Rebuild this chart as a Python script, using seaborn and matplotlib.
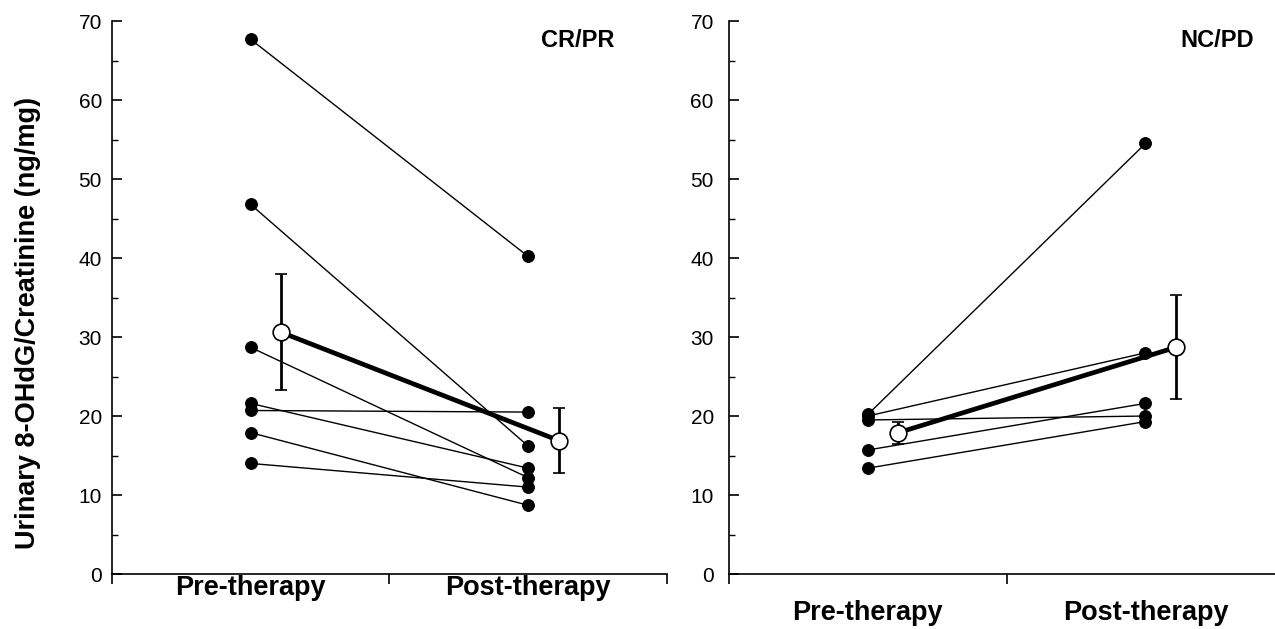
import matplotlib
matplotlib.use("Agg")
import matplotlib.pyplot as plt
import numpy as np
import pandas as pd
import seaborn as sns

phases = ["Pre-therapy", "Post-therapy"]

# CR/PR group, one pre/post pair per patient
crpr_pre = [67.7, 46.8, 28.7, 21.6, 20.7, 17.9, 14.0]
crpr_post = [40.2, 16.2, 12.2, 13.4, 20.5, 8.7, 11.0]
crpr_mean = [30.6, 16.9]
crpr_err = [7.35, 4.1]

# NC/PD group
ncpd_pre = [20.2, 20.0, 19.5, 15.7, 13.4]
ncpd_post = [54.5, 28.0, 20.0, 21.6, 19.3]
ncpd_mean = [17.9, 28.7]
ncpd_err = [1.4, 6.6]


def to_long(pre, post):
    rows = []
    for i, (a, b) in enumerate(zip(pre, post)):
        rows.append({"patient": i, "phase": 0, "value": a})
        rows.append({"patient": i, "phase": 1, "value": b})
    return pd.DataFrame(rows)


def draw_panel(ax, pre, post, mean, err, name, name_x, label_pad, ytick_pad):
    df = to_long(pre, post)
    sns.lineplot(data=df, x="phase", y="value", units="patient", estimator=None,
                 color="black", lw=1.0, marker="o", markersize=8.5,
                 markeredgecolor="black", legend=False, ax=ax)
    ax.errorbar(np.arange(2) + 0.11, mean, yerr=err, fmt="-o", color="black",
                lw=3.4, ms=12, mfc="white", mec="black", mew=1.2,
                ecolor="black", elinewidth=2, capsize=4, capthick=2, zorder=5)

    ax.set_xlim(-0.5, 1.5)
    ax.set_ylim(0, 70)
    ax.set_xticks([0, 1])
    ax.set_xticklabels(phases, fontsize=19.5, fontweight="bold")
    ax.set_xticks([-0.5, 0.5, 1.5], minor=True)
    ax.tick_params(axis="x", which="major", length=0, pad=label_pad, labelcolor="black")
    ax.tick_params(axis="x", which="minor", direction="out", length=7, width=1.2,
                   color="black")
    ax.set_yticks(range(0, 71, 10))
    ax.set_yticks(range(5, 70, 10), minor=True)
    ax.tick_params(axis="y", which="major", direction="in", length=7, width=1.2,
                   labelsize=15, pad=ytick_pad, color="black", labelcolor="black")
    ax.tick_params(axis="y", which="minor", direction="in", length=4, width=1.0,
                   color="black")
    ax.set_xlabel("")
    ax.set_ylabel("")
    for s in ["top", "right"]:
        ax.spines[s].set_visible(False)
    for s in ["left", "bottom"]:
        ax.spines[s].set_linewidth(1.2)
        ax.spines[s].set_color("black")
    ax.text(name_x, 69, name, ha="right", va="top", fontsize=17,
            fontweight="bold", color="black")


sns.set_style("ticks")
plt.rcParams["font.family"] = ["Liberation Sans", "DejaVu Sans"]

fig = plt.figure(figsize=(12.75, 6.29), dpi=100)
ax1 = fig.add_axes([0.0876, 0.0874, 0.4355, 0.8792])
ax2 = fig.add_axes([0.5718, 0.0874, 0.4355, 0.8792])

draw_panel(ax1, crpr_pre, crpr_post, crpr_mean, crpr_err, "CR/PR", 1.31, 1, 7)
draw_panel(ax2, ncpd_pre, ncpd_post, ncpd_mean, ncpd_err, "NC/PD", 1.39, 19, 11)

fig.text(0.022, 0.487, "Urinary 8-OHdG/Creatinine (ng/mg)", rotation=90,
         ha="center", va="center", fontsize=19.5, fontweight="bold", color="black")

fig.savefig("out.png", dpi=100)
